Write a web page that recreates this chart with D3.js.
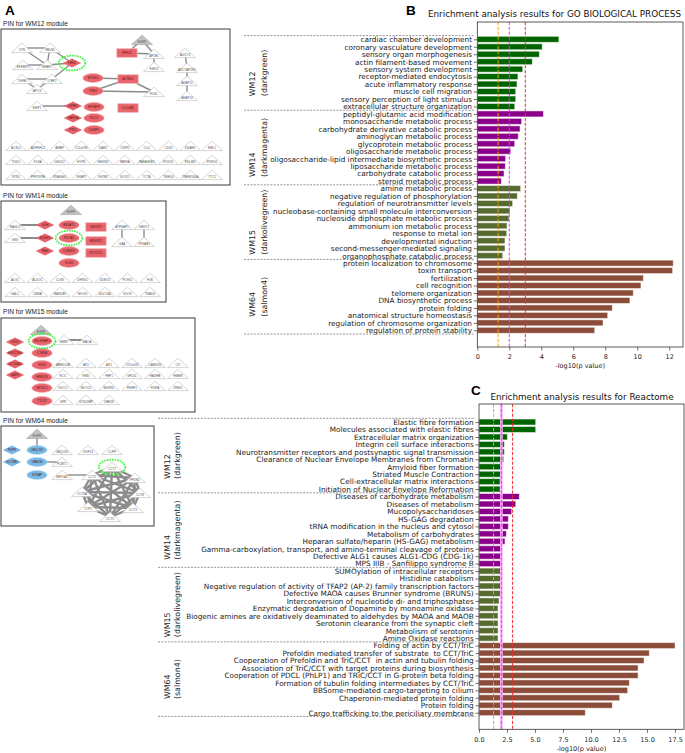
<!DOCTYPE html>
<html><head><meta charset="utf-8">
<script src="https://cdn.jsdelivr.net/npm/d3@7"></script>
<style>body{margin:0;background:#fff}svg{display:block}</style>
</head><body>
<svg id="fig" width="685" height="753"></svg>
<script>
// ================= DATA =================
// --- Panel B: GO Biological Process ---
const goWM12Terms = ["cardiac chamber development","coronary vasculature development","sensory organ morphogenesis","actin filament-based movement","sensory system development","receptor-mediated endocytosis","acute inflammatory response","muscle cell migration","sensory perception of light stimulus","extracellular structure organization"];
const goWM12Values = [5.1,4.06,3.88,3.44,2.84,2.54,2.48,2.4,2.4,2.34];
const goWM14Terms = ["peptidyl-glutamic acid modification","monosaccharide metabolic process","carbohydrate derivative catabolic process","aminoglycan metabolic process","glycoprotein metabolic process","oligosaccharide metabolic process","oligosaccharide-lipid intermediate biosynthetic process","liposaccharide metabolic process","carbohydrate catabolic process","steroid metabolic process"];
const goWM14Values = [4.13,2.77,2.67,2.56,2.34,2.09,1.77,1.75,1.67,1.5];
const goWM15Terms = ["amine metabolic process","negative regulation of phosphorylation","regulation of neurotransmitter levels","nucleobase-containing small molecule interconversion","nucleoside diphosphate metabolic process","ammonium ion metabolic process","response to metal ion","developmental induction","second-messenger-mediated signaling","organophosphate catabolic process"];
const goWM15Values = [2.71,2.5,2.21,2.04,1.98,1.86,1.84,1.73,1.73,1.59];
const goWM64Terms = ["protein localization to chromosome","toxin transport","fertilization","cell recognition","telomere organization","DNA biosynthetic process","protein folding","anatomical structure homeostasis","regulation of chromosome organization","regulation of protein stability"];
const goWM64Values = [12.25,12.21,10.38,10.23,9.75,9.54,8.44,8.15,7.86,7.34];
const goTicks = [0,2,4,6,8,10,12];

// --- Panel C: Reactome ---
const rxWM12Terms = ["Elastic fibre formation","Molecules associated with elastic fibres","Extracellular matrix organization","Integrin cell surface interactions","Neurotransmitter receptors and postsynaptic signal transmission","Clearance of Nuclear Envelope Membranes from Chromatin","Amyloid fiber formation","Striated Muscle Contraction","Cell-extracellular matrix interactions","Initiation of Nuclear Envelope Reformation"];
const rxWM12Values = [5.06,5.06,2.53,2.26,2.26,2.2,1.96,1.93,1.88,1.88];
const rxWM14Terms = ["Diseases of carbohydrate metabolism","Diseases of metabolism","Mucopolysaccharidoses","HS-GAG degradation","tRNA modification in the nucleus and cytosol","Metabolism of carbohydrates","Heparan sulfate/heparin (HS-GAG) metabolism","Gamma-carboxylation, transport, and amino-terminal cleavage of proteins","Defective ALG1 causes ALG1-CDG (CDG-1k)","MPS IIIB - Sanfilippo syndrome B"];
const rxWM14Values = [3.6,3.28,2.92,2.62,2.62,2.44,2.32,1.99,1.99,1.99];
const rxWM15Terms = ["SUMOylation of intracellular receptors","Histidine catabolism","Negative regulation of activity of TFAP2 (AP-2) family transcription factors","Defective MAOA causes Brunner syndrome (BRUNS)","Interconversion of nucleotide di- and triphosphates","Enzymatic degradation of Dopamine by monoamine oxidase","Biogenic amines are oxidatively deaminated to aldehydes by MAOA and MAOB","Serotonin clearance from the synaptic cleft","Metabolism of serotonin","Amine Oxidase reactions"];
const rxWM15Values = [1.93,1.93,1.93,1.93,1.79,1.7,1.7,1.7,1.7,1.7];
const rxWM64Terms = ["Folding of actin by CCT/TriC","Prefoldin mediated transfer of substrate  to CCT/TriC","Cooperation of Prefoldin and TriC/CCT  in actin and tubulin folding","Association of TriC/CCT with target proteins during biosynthesis","Cooperation of PDCL (PhLP1) and TRiC/CCT in G-protein beta folding","Formation of tubulin folding intermediates by CCT/TriC","BBSome-mediated cargo-targeting to cilium","Chaperonin-mediated protein folding","Protein folding","Cargo trafficking to the periciliary membrane"];
const rxWM64Values = [17.5,15.2,14.73,14.2,14.2,13.42,13.27,12.56,11.9,9.49];
const rxTicks = [0,2.5,5,7.5,10,12.5,15,17.5];

const moduleNames = ["WM12","WM14","WM15","WM64"];
const moduleColors = ["darkgreen","darkmagenta","darkolivegreen","salmon4"];
const pThresholds = [1.301, 2, 3];   // -log10 of 0.05, 0.01, 0.001

// --- Panel A: protein interaction networks (layout units inside each box) ---
const wm12Nodes = [["VTN","tri",21,19],["FBLN5","tri",49,19],["EFEMP2","tri",22,36],["MFAP2","tri",46,36],["FBN1","rd",71,34],["TGFBI","tri",21,50],["LTBP2","tri",51,50],["APCS","tri",36,60],
 ["EGFR","egfr",141,11],["EPS15","rr",126,24],["AP2B1","tri",153,25],["EHD3","tri",153,38],
 ["ADCY3","tri",184,24],["ADCYAP1R1","tri",186,39],["AKAP12","tri",186,52],["AKAP13","tri",186,67],
 ["MYH10","re",92,49],["ACTBL2","rr",127,50],["TPM2","re",92,62],["FLNC","tri",153,63],
 ["EMP1","tri",36,77],["LMNB1","rd",72,77],["HP1BP3","re",93,78],["COL6A1","rr",127,79],
 ["NAPSA","rd",72,89],["RCC1","re",93,89],["PTK2","rd",72,101],["CSRP1","re",93,101]];
const wm12Edges = [["VTN","FBLN5"],["VTN","MFAP2"],["FBLN5","FBN1"],["FBLN5","MFAP2"],["EFEMP2","MFAP2"],["MFAP2","FBN1"],["TGFBI","LTBP2"],["LTBP2","FBN1"],["TGFBI","APCS"],["LTBP2","APCS"],["EGFR","EPS15"],["EGFR","AP2B1"],["EPS15","AP2B1"],["AP2B1","EHD3"],["ADCY3","ADCYAP1R1"],["ADCYAP1R1","AKAP12"],["AKAP12","AKAP13"],["MYH10","ACTBL2"],["ACTBL2","FLNC"],["TPM2","ACTBL2"],["TPM2","FLNC"],["EMP1","LMNB1"]];
const wm12Grid = [["ACSL5","ADPRHL2","AMBP","C11orf96","DAW1","CRIP2","CLU","CD63","DDAH1","EML1"],
 ["TIGD1","FLNA","GNG12","HYPK","HMGN2","PARVA","PAFAH1B3","PODXL","PDLIM2","PDRG1"],
 ["RTN1","PPP1R9B","RNASE4","SKAP2","SNTB2","SOX11","TCTA","TMED4","TMEM160A","TTC1"]];

const wm14Nodes = [["EGFR","egfr",70,9],["NAGLU","tri",14,24],["GGH","rd",44,24],["B4GAT1","re",68,24],["HS6ST2","rr",95,26],["ATP6AP1","tri",121,24],["GBGT1","tri",143,24],
 ["GNS","tri",14,37],["NCEH1","rd",44,37],["FUCA1","re",68,37],["B3GNT2","rr",95,40],["GAA","tri",121,41],["TPSAB1","tri",143,41],
 ["PAM","rd",44,50],["CYB5R3","re",68,50],["PCYOX1","rr",95,52],["SUN1","re",68,62]];
const wm14Edges = [["NAGLU","GGH",2],["GNS","NCEH1",2],["ATP6AP1","GAA"],["GBGT1","TPSAB1"]];
const wm14Grid = [["ALG1","ALDOC","CLN3","DHRS1","DLMO2","FOXK1","FUK"],["GALC","LMNA","MAN2B1","MOGS","SULT1A1","SUOX","TRADD"]];

const wm15Nodes = [["EGFR","egfr",40,12],["CHID1","rd",14,24],["HSD17B4","rd",14,35],["SLC44A2","rd",14,46],["SARG","rd",14,57],
 ["SELENBP1","re",41,23],["CYB5A","re",41,35],["H1F0","re",41,47],["HMGCR","re",41,59],["NKX3-1","re",41,70],["TTC37","re",41,83],
 ["HNMT","tri",63,22],["MAOA","tri",86,22]];
const wm15Edges = [["HNMT","MAOA",2]];
const wm15Grid = [["ABHD14B","AK1","AK2","C21orf33","CAMK2D","CIT"],["ECI1","EMD","FBP1","GPD1L","HADHB","HMMR"],["ISOC1","MLYCD","MGRN1","PEBP1","PURA","RNH1"],["SPR","SYNJ2BP","UBE2K"]];

const wm64Nodes = [["EGFR","egfr",36,8],["PDPR","bd",11,24],["SLC9B2","bd",11,36],["UBQLN2","be",36,24],["UBE2M","be",36,36],["STRAP","be",36,49],
 ["UBQLN1","tri",61,24],["USP14","tri",87,24],["CLPP","tri",111,24],["PCMT1","tri",61,36],["EEF1A1","tri",61,49],
 ["CCT7","tri",111,41],["CCT2","tri",91,49],["PFDN2","tri",134,52],["CCT6A","tri",81,66],["CCT8","tri",139,67],["TCP1","tri",87,81],["CCT3","tri",132,82],["CCT5","tri",109,91]];
const wm64Clique = ["CCT7","CCT2","PFDN2","CCT6A","CCT8","TCP1","CCT3","CCT5"];
const wm64Edges = [["EGFR","UBQLN2"],["UBE2M","PCMT1"],["EEF1A1","CCT2"]];

// ================= DRAWING =================
const svg = d3.select("#fig");
const colorHex = {darkgreen:"#006400",darkmagenta:"#8B008B",darkolivegreen:"#556B2F",salmon4:"#8B4C39"};
const FONT = "DejaVu Sans, sans-serif";
const AFONT = "Liberation Sans, Arial, sans-serif";

function barPanel(cfg){
  const groups = cfg.groups;
  const terms = groups.flatMap(g=>g.terms);
  const vals = groups.flatMap(g=>g.values);
  const cols = groups.flatMap(g=>g.terms.map(()=>colorHex[g.color]));
  const n = terms.length;
  const x = d3.scaleLinear().domain([0,cfg.xmax]).range([cfg.left,cfg.right]);
  const y = d3.scaleLinear().domain([-cfg.padTop,n-1+cfg.padBot]).range([cfg.top,cfg.bottom]);
  const g = svg.append("g");
  g.selectAll("rect.bar").data(vals).join("rect").attr("class","bar")
    .attr("x",x(0)).attr("y",(d,i)=>y(i-0.4)).attr("width",d=>x(d)-x(0))
    .attr("height",(d,i)=>y(i+0.4)-y(i-0.4)).attr("fill",(d,i)=>cols[i])
    .attr("stroke","rgba(255,255,255,0.55)").attr("stroke-width",0.9);
  const thrCol = ["#ffa500","#e83ee8","#ee2d2d"];
  if(cfg.pinkBand){
    g.append("line").attr("x1",x(2)).attr("x2",x(2)).attr("y1",cfg.top).attr("y2",cfg.bottom)
     .attr("stroke","#ffb3ff").attr("stroke-width",2.6);
  }
  g.selectAll("line.thr").data(pThresholds).join("line").attr("class","thr")
    .attr("x1",d=>x(d)).attr("x2",d=>x(d)).attr("y1",cfg.top).attr("y2",cfg.bottom)
    .attr("stroke",(d,i)=>thrCol[i]).attr("stroke-width",1).attr("stroke-dasharray","3.2,1.6");
  const ya = g.append("g").attr("transform",`translate(${cfg.left},0)`)
    .call(d3.axisLeft(y).tickValues(d3.range(n)).tickFormat(i=>terms[i]).tickSize(3.5).tickPadding(1.8));
  ya.select(".domain").remove();
  ya.selectAll("text").attr("font-size",7.3).attr("font-family",FONT).attr("fill","#222").style("white-space","pre");
  ya.selectAll("line").attr("stroke","#333").attr("stroke-width",0.7);
  const xa = g.append("g").attr("transform",`translate(0,${cfg.bottom})`)
    .call(d3.axisBottom(x).tickValues(cfg.ticks).tickFormat(cfg.fmt).tickSize(3.5).tickPadding(cfg.xpad));
  xa.select(".domain").remove();
  xa.selectAll("text").attr("font-size",6.5).attr("font-family",FONT).attr("fill","#222");
  xa.selectAll("line").attr("stroke","#333").attr("stroke-width",0.7);
  g.append("text").attr("x",(cfg.left+cfg.right)/2).attr("y",cfg.xlabY).attr("text-anchor","middle")
    .attr("font-size",6.5).attr("font-family",FONT).attr("fill","#222").text("-log10(p value)");
  g.append("rect").attr("x",cfg.left).attr("y",cfg.top).attr("width",cfg.right-cfg.left)
    .attr("height",cfg.bottom-cfg.top).attr("fill","none").attr("stroke","#333").attr("stroke-width",0.8);
  // separators
  const seps = d3.range(groups.length+1).map(k=>k*10-0.5);
  g.selectAll("line.sep").data(seps).join("line").attr("class","sep")
    .attr("x1",cfg.sepX).attr("x2",cfg.left-3.5).attr("y1",d=>y(d)).attr("y2",d=>y(d))
    .attr("stroke","#666").attr("stroke-width",0.7).attr("stroke-dasharray","2,1.3");
  // group labels
  groups.forEach((grp,k)=>{
    const yc = (y(k*10)+y(k*10+grp.terms.length-1))/2;
    const t1 = g.append("text").attr("font-size",7.9).attr("font-family",FONT).attr("fill","#222").attr("dominant-baseline","central").text(grp.name);
    const t2 = g.append("text").attr("font-size",7.9).attr("font-family",FONT).attr("fill","#222").attr("dominant-baseline","central").text("("+grp.color+")");
    const L = Math.max(t1.node().getComputedTextLength(),t2.node().getComputedTextLength());
    t1.attr("transform",`translate(${cfg.labX1},${yc+L/2}) rotate(-90)`);
    t2.attr("transform",`translate(${cfg.labX2},${yc+L/2}) rotate(-90)`);
  });
  svg.append("text").attr("x",cfg.titleX).attr("y",cfg.titleY).attr("text-anchor","middle")
    .attr("font-size",8.8).attr("font-family",FONT).attr("fill","#111").text(cfg.title);
  svg.append("text").attr("x",cfg.letterX).attr("y",cfg.letterY).attr("font-size",13.5)
    .attr("font-weight","bold").attr("font-family",AFONT).attr("fill","#000").text(cfg.letter);
}

barPanel({
  groups:[{name:moduleNames[0],color:moduleColors[0],terms:goWM12Terms,values:goWM12Values},
          {name:moduleNames[1],color:moduleColors[1],terms:goWM14Terms,values:goWM14Values},
          {name:moduleNames[2],color:moduleColors[2],terms:goWM15Terms,values:goWM15Values},
          {name:moduleNames[3],color:moduleColors[3],terms:goWM64Terms,values:goWM64Values}],
  left:477.3,right:683,top:22,bottom:347,xmax:12.86,padTop:2.32,padBot:2.24,
  ticks:goTicks,fmt:d3.format("d"),xpad:3.6,xlabY:367.5,sepX:244,labX1:252,labX2:264,
  title:"Enrichment analysis results for GO BIOLOGICAL PROCESS",titleX:554.5,titleY:17.3,
  letter:"B",letterX:406,letterY:15.3,pinkBand:false
});
barPanel({
  groups:[{name:moduleNames[0],color:moduleColors[0],terms:rxWM12Terms,values:rxWM12Values},
          {name:moduleNames[1],color:moduleColors[1],terms:rxWM14Terms,values:rxWM14Values},
          {name:moduleNames[2],color:moduleColors[2],terms:rxWM15Terms,values:rxWM15Values},
          {name:moduleNames[3],color:moduleColors[3],terms:rxWM64Terms,values:rxWM64Values}],
  left:479,right:684,top:404,bottom:729.3,xmax:18.3,padTop:2.42,padBot:2.23,
  ticks:rxTicks,fmt:d3.format(".1f"),xpad:4.2,xlabY:750.5,sepX:158,labX1:167,labX2:177,
  title:"Enrichment analysis results for Reactome",titleX:582,titleY:400,
  letter:"C",letterX:471,letterY:395,pinkBand:true
});

// ---------- Panel A ----------
const RED="#e8636b", BLUE="#77b8e6", GREY="#c2c2c2";
function drawShape(g,shape,px,py){
  if(shape==="tri"||shape==="egfr"){
    g.append("path").attr("d",`M${px},${py-4.8}L${px+10.5},${py+4.6}L${px-10.5},${py+4.6}Z`)
     .attr("fill",shape==="egfr"?GREY:"#fff").attr("stroke",shape==="egfr"?"#aaa":"#c4c4c4").attr("stroke-width",0.7);
  } else if(shape==="re"||shape==="be"){
    g.append("ellipse").attr("cx",px).attr("cy",py).attr("rx",10.2).attr("ry",4.4)
     .attr("fill",shape==="re"?RED:BLUE).attr("stroke",shape==="re"?"#f2a8ad":"#a9d3f0").attr("stroke-width",0.6);
  } else if(shape==="rr"){
    g.append("rect").attr("x",px-10.2).attr("y",py-4.3).attr("width",20.4).attr("height",8.6)
     .attr("fill",RED).attr("stroke","#f4b4b8").attr("stroke-width",0.8);
  } else if(shape==="rd"||shape==="bd"){
    g.append("path").attr("d",`M${px},${py-4.6}L${px+9.2},${py}L${px},${py+4.6}L${px-9.2},${py}Z`)
     .attr("fill",shape==="rd"?RED:BLUE).attr("stroke","none");
  }
  return g;
}
function network(box){
  const g = svg.append("g");
  const sx = d3.scaleLinear().domain([0,box.w]).range([box.x,box.x+box.w]);
  const sy = d3.scaleLinear().domain([0,box.h]).range([box.y,box.y+box.h]);
  g.append("text").attr("x",3).attr("y",box.labelY).attr("font-size",6.6).attr("font-family",AFONT).attr("fill","#222").text(box.label);
  g.append("rect").attr("x",sx(0)).attr("y",sy(0)).attr("width",sx(box.w)-sx(0)).attr("height",sy(box.h)-sy(0))
    .attr("fill","#fff").attr("stroke","#3a3a3a").attr("stroke-width",1);
  const nodes = box.nodes.map(d=>({name:d[0],shape:d[1],x:sx(d[2]),y:sy(d[3])}));
  if(box.grid){
    const gx = d3.scalePoint().domain(d3.range(box.grid.cols)).range(box.grid.xr.map(sx));
    box.grid.rows.forEach((row,r)=>row.forEach((nm,c)=>nodes.push({name:nm,shape:"tri",x:gx(c),y:sy(box.grid.ys[r])})));
  }
  const byName = new Map(nodes.map(n=>[n.name,n]));
  const edges = (box.edges||[]).slice();
  if(box.clique){ for(let i=0;i<box.clique.length;i++) for(let j=i+1;j<box.clique.length;j++) edges.push([box.clique[i],box.clique[j],2.4]); }
  g.selectAll("line.e").data(edges).join("line").attr("class","e")
    .attr("x1",d=>byName.get(d[0]).x).attr("y1",d=>byName.get(d[0]).y)
    .attr("x2",d=>byName.get(d[1]).x).attr("y2",d=>byName.get(d[1]).y)
    .attr("stroke","#8c8c8c").attr("stroke-width",d=>d[2]||1.4);
  nodes.forEach(n=>{
    drawShape(g,n.shape,n.x,n.y);
    const tri = n.shape==="tri"||n.shape==="egfr";
    g.append("text").attr("x",n.x).attr("y",tri?n.y+3:n.y+1.2).attr("text-anchor","middle")
      .attr("font-size",3.1).attr("font-family",AFONT).attr("fill",tri?"#555":"#5a1a1a").text(n.name);
  });
  (box.seeds||[]).forEach(s=>{
    const n = byName.get(s);
    g.append("ellipse").attr("cx",n.x).attr("cy",n.y).attr("rx",13.3).attr("ry",7.4)
      .attr("fill","none").attr("stroke","#3cf03c").attr("stroke-width",1.7).attr("stroke-dasharray","1.6,1");
  });
}
svg.append("text").attr("x",5).attr("y",14.5).attr("font-size",13.5).attr("font-weight","bold").attr("font-family",AFONT).text("A");
network({label:"PIN for WM12 module",labelY:25.5,x:1,y:29,w:229,h:156,nodes:wm12Nodes,edges:wm12Edges,seeds:["FBN1"],
  grid:{rows:wm12Grid,cols:10,xr:[15,211],ys:[117,131,146]}});
network({label:"PIN for WM14 module",labelY:198,x:1,y:201,w:165,h:101,nodes:wm14Nodes,edges:wm14Edges,seeds:["FUCA1"],
  grid:{rows:wm14Grid,cols:7,xr:[14,149],ys:[77,91]}});
network({label:"PIN for WM15 module",labelY:314,x:1,y:318,w:194,h:94,nodes:wm15Nodes,edges:wm15Edges,seeds:["SELENBP1"],
  grid:{rows:wm15Grid,cols:6,xr:[62,177],ys:[45,56,68,82]}});
network({label:"PIN for WM64 module",labelY:423,x:1,y:426,w:153,h:100,nodes:wm64Nodes,edges:wm64Edges,seeds:["CCT7"],clique:wm64Clique});
</script>
</body></html>
